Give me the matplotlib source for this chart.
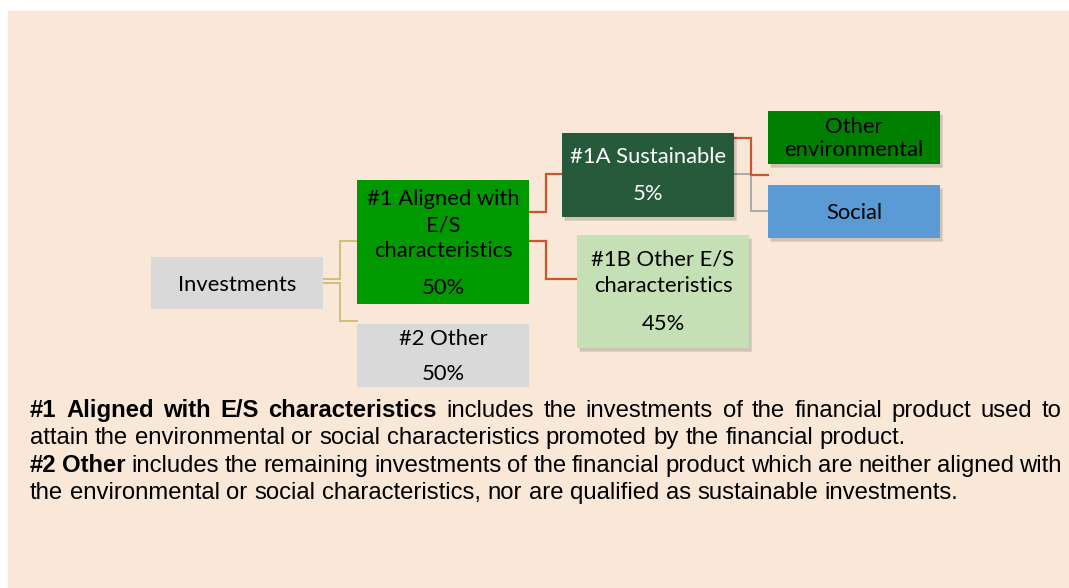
import matplotlib
matplotlib.use("Agg")
import matplotlib.pyplot as plt
from matplotlib.patches import Rectangle
from matplotlib import font_manager as fm

# ---------------- data ----------------
box_labels = ["Investments",
              "#1 Aligned with\nE/S\ncharacteristics",
              "#2 Other",
              "#1A Sustainable",
              "#1B Other E/S\ncharacteristics",
              "Other\nenvironmental",
              "Social"]
box_shares = ["", "50%", "50%", "5%", "45%", "", ""]

note_lines = [
    [("#1 Aligned with E/S characteristics", True),
     ("includes the investments of the financial product used to", False)],
    [("attain the environmental or social characteristics promoted by the financial product.", False)],
    [("#2 Other", True),
     ("includes the remaining investments of the financial product which are neither aligned with", False)],
    [("the environmental or social characteristics, nor are qualified as sustainable investments.", False)],
]
note_justify = [True, False, True, False]

# ---------------- layout / style ----------------
W, H = 1069, 588
BG = "#F9E7D7"
names = {f.name for f in fm.fontManager.ttflist}
box_font = "Lato" if "Lato" in names else "DejaVu Sans"
note_font = next((n for n in ["Liberation Sans Narrow", "Arial Narrow", "Liberation Sans"] if n in names),
                 "DejaVu Sans")
print("note font:", note_font)

# x0, y0, x1, y1 in pixels; fill; text color; shadow
geom = [
    (151, 257, 323, 309, "#D9D9D9", "black", False),
    (357, 180, 529, 304, "#009900", "black", False),
    (357, 324, 529, 387, "#D9D9D9", "black", False),
    (562, 133, 734, 217, "#265A3B", "white", True),
    (577, 235, 749, 348, "#C5E0B4", "black", True),
    (768, 111, 940, 164, "#008000", "black", True),
    (768, 185, 940, 238, "#5B9BD5", "black", True),
]
# centres of each text line (label lines, then share)
line_centres = [
    [284],
    [198, 224, 250, 287],
    [338, 373],
    [156, 193],
    [259, 285, 323],
    [126, 149],
    [212],
]

fig = plt.figure(figsize=(W / 100, H / 100), dpi=100)
fig.patch.set_facecolor("white")
ax = fig.add_axes([0, 0, 1, 1])
ax.set_xlim(0, W)
ax.set_ylim(H, 0)
ax.axis("off")
ax.add_patch(Rectangle((8, 11), W - 8, H - 11, color=BG, zorder=0))

renderer = fig.canvas.get_renderer()


def text_width(s, size, family, weight="normal"):
    t = ax.text(0, 0, s, fontsize=size, family=family, weight=weight)
    w = t.get_window_extent(renderer).width
    t.remove()
    return w

# font size of the box texts fitted to the reference width of "Investments"
box_fs = 10 * 118 / text_width("Investments", 10, box_font)

# connectors
RED = "#CC5530"
OLIVE = "#CDBB72"
GREY = "#A6A6A6"
conn = [
    ([323, 340, 340, 357], [279, 279, 241, 241], OLIVE, 1.3),
    ([323, 340, 340, 358], [283, 283, 321, 321], OLIVE, 1.3),
    ([529, 546, 546, 562], [212, 212, 174, 174], RED, 1.6),
    ([529, 546, 546, 577], [241, 241, 279, 279], RED, 1.6),
    ([734, 751, 751, 768], [174, 174, 211, 211], GREY, 1.3),
    ([734, 751, 751, 769], [138, 138, 175, 175], RED, 1.6),
]
for xs, ys, c, lw in conn:
    ax.plot(xs, ys, color=c, lw=lw, zorder=1, solid_capstyle="butt", solid_joinstyle="miter")

for (x0, y0, x1, y1, fc, tc, sh), lab, share, cents in zip(geom, box_labels, box_shares, line_centres):
    if sh:
        for k, a in enumerate([0.05, 0.05, 0.06]):
            ax.add_patch(Rectangle((x0 + 2 + k * 0.5, y0 + 3 + k * 0.5), x1 - x0 + 1 - k, y1 - y0 + 1 - k,
                                   color="black", alpha=a, lw=0, zorder=2))
    ax.add_patch(Rectangle((x0, y0), x1 - x0, y1 - y0, color=fc, lw=0, zorder=3))
    lines = lab.split("\n") + ([share] if share else [])
    cx = (x0 + x1) / 2
    for s, cy in zip(lines, cents):
        ax.text(cx, cy + 7, s, ha="center", va="baseline", fontsize=box_fs,
                family=box_font, color=tc, zorder=4)

# notes (justified where the reference is)
X0, X1 = 30, 1062
baselines = [417, 444, 472, 499]
note_fs = 10 * 880 / text_width(note_lines[1][0][0], 10, note_font)

for segs, just, yb in zip(note_lines, note_justify, baselines):
    words = []
    for s, b in segs:
        for w in s.split():
            words.append((w, b))
    objs, widths = [], []
    for w, b in words:
        t = ax.text(0, yb, w, fontsize=note_fs, family=note_font,
                    weight="bold" if b else "normal", va="baseline", ha="left", color="black")
        objs.append(t)
        widths.append(t.get_window_extent(renderer).width)
    if just and len(words) > 1:
        gap = (X1 - X0 - sum(widths)) / (len(words) - 1)
    else:
        gap = text_width("a a", note_fs, note_font) - text_width("aa", note_fs, note_font)
    x = X0
    for t, w in zip(objs, widths):
        t.set_position((x, yb))
        x += w + gap

fig.savefig("out.png", dpi=100, facecolor="white")
